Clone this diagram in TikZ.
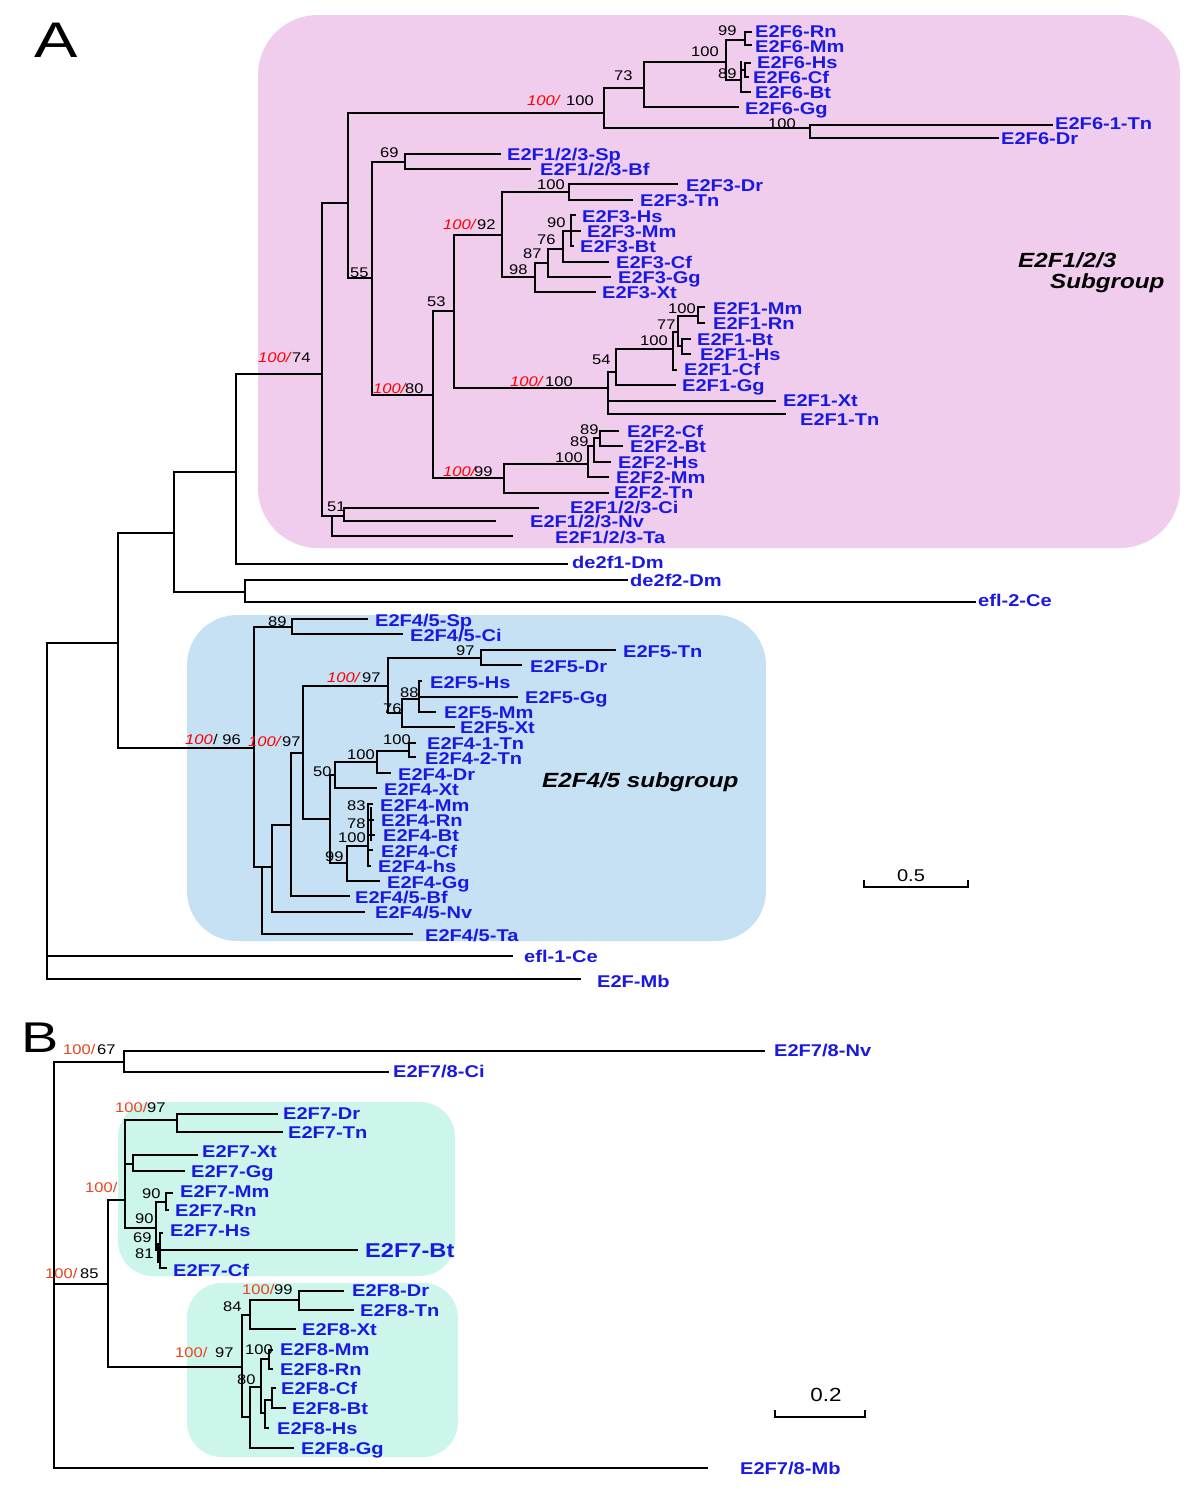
\documentclass[tikz,border=0pt]{standalone}
\usepackage{fontspec}
\setmainfont{Liberation Sans}
\newfontfamily\labf[FakeStretch=1.18]{Liberation Sans}
\newfontfamily\bigf[FakeStretch=1.3]{Liberation Sans}
\definecolor{labblue}{RGB}{25,25,225}
\definecolor{pinkbox}{RGB}{240,205,236}
\definecolor{bluebox}{RGB}{198,224,244}
\definecolor{cyanbox}{RGB}{204,246,236}
\definecolor{bred}{RGB}{232,70,30}
\newcounter{nbc}
\tikzset{
  br/.style={line width=2.1pt, line cap=rect},
  lab/.style={anchor=base west, inner sep=0pt, text=labblue, font=\labf\bfseries\fontsize{17}{17}\selectfont},
  num/.style={anchor=base west, inner sep=0pt, font=\labf\fontsize{14}{14}\selectfont},
  rnum/.style={num, text=red, font=\labf\itshape\fontsize{14}{14}\selectfont},
  bnum/.style={num, text=bred},
  grp/.style={anchor=base west, inner sep=0pt, font=\labf\bfseries\itshape\fontsize{20.5}{20.5}\selectfont}
}
\newcommand\vb[3]{\draw[br] (#1,#2) -- (#1,#3);}
\newcommand\hb[3]{\draw[br] (#2,#1) -- (#3,#1);}
\newcommand\tleaf[7]{\coordinate (#1t) at (#4,#2); \draw[br] (#3,#2) -- (#1t); \node[lab] (#1) at (#5,#6+6) {#7};}
\newcommand\nb[3]{\stepcounter{nbc}\node[num] (nb\arabic{nbc}) at (#1,#2+5) {#3};}
\newcommand\rb[3]{\stepcounter{nbc}\node[rnum] (nb\arabic{nbc}) at (#1,#2+5) {#3};}
\newcommand\ob[3]{\stepcounter{nbc}\node[bnum] (nb\arabic{nbc}) at (#1,#2+5) {#3};}
\begin{document}
\begin{tikzpicture}[x=1pt,y=-1pt]
\useasboundingbox (0,0) rectangle (1200,1494);
\fill[white] (0,0) rectangle (1200,1494);
% group boxes
\fill[pinkbox, rounded corners=60] (258,15) rectangle (1180,548);
\fill[bluebox, rounded corners=50] (187,615) rectangle (766,941);
\fill[cyanbox, rounded corners=35] (118,1102) rectangle (455,1276);
\fill[cyanbox, rounded corners=35] (187,1283) rectangle (458,1457);
% panel letters
\node[anchor=base west, inner sep=0pt, font=\bigf\fontsize{50}{50}\selectfont] (pA) at (34,57) {A};
\node[anchor=base west, inner sep=0pt, font=\bigf\fontsize{43}{43}\selectfont] (pB) at (21,1052) {B};
% group names
\node[grp] (g1a) at (1018,267) {E2F1/2/3};
\node[grp] (g1b) at (1050,288) {Subgroup};
\node[grp] (g2) at (542,787) {E2F4/5 subgroup};

%%%%%%%%%%%% PANEL A %%%%%%%%%%%%
\vb{47}{643}{979}
\tleaf{efa}{956}{47}{512}{524}{956}{efl-1-Ce}
\tleaf{mba}{979}{47}{580}{597}{981}{E2F-Mb}
\hb{643}{47}{118}
\vb{118}{533}{748}
\hb{533}{118}{174}
\vb{174}{472}{592}
\hb{472}{174}{236}
\hb{592}{174}{245}
\vb{245}{580}{602}
\tleaf{dtwo}{580}{245}{627}{630}{580}{de2f2-Dm}
\tleaf{eftwo}{602}{245}{975}{978}{600}{efl-2-Ce}
\vb{236}{374}{564}
\tleaf{done}{564}{236}{567}{572}{562}{de2f1-Dm}
\hb{374}{236}{322}
\rb{258}{357}{100/}\nb{292}{357}{74}
\vb{322}{203}{516}
\hb{203}{322}{348}
\hb{516}{322}{344}
\vb{332}{516}{536}
\nb{327}{506}{51}
\vb{344}{508}{521}
\tleaf{ci3}{508}{344}{538}{570}{507}{E2F1/2/3-Ci}
\tleaf{nv3}{521}{344}{495}{530}{521}{E2F1/2/3-Nv}
\tleaf{ta3}{536}{332}{512}{555}{537}{E2F1/2/3-Ta}
% E2F6
\vb{348}{113}{278}
\hb{113}{348}{604}
\rb{527}{100}{100/}\nb{566}{100}{100}
\vb{604}{88}{128}
\hb{88}{604}{644}\nb{614}{75}{73}
\vb{644}{62}{107}
\hb{62}{644}{726}\nb{691}{51}{100}
\vb{726}{40}{80}
\hb{40}{726}{745}
\vb{745}{32}{45}\nb{718}{30}{99}
\tleaf{rn6}{32}{745}{751}{755}{31}{E2F6-Rn}
\tleaf{mm6}{45}{745}{751}{755}{46}{E2F6-Mm}
\hb{80}{726}{741}
\vb{741}{62}{92}\nb{718}{73}{89}
\hb{70}{741}{745}
\vb{745}{63}{77}
\tleaf{hs6}{63}{745}{750}{757}{62}{E2F6-Hs}
\tleaf{cf6}{77}{745}{748}{753}{77}{E2F6-Cf}
\tleaf{bt6}{92}{741}{750}{755}{92}{E2F6-Bt}
\tleaf{gg6}{107}{644}{738}{745}{108}{E2F6-Gg}
\hb{128}{604}{810}\nb{768}{123}{100}
\vb{810}{125}{138}
\tleaf{tn6}{125}{810}{1052}{1055}{123}{E2F6-1-Tn}
\tleaf{dr6}{138}{810}{998}{1001}{138}{E2F6-Dr}
% E2F1/2/3
\hb{278}{348}{372}\nb{350}{272}{55}
\vb{372}{162}{395}
\hb{162}{372}{405}\nb{380}{152}{69}
\vb{405}{154}{169}
\tleaf{sp3}{154}{405}{500}{507}{154}{E2F1/2/3-Sp}
\tleaf{bf3}{169}{405}{530}{540}{169}{E2F1/2/3-Bf}
\hb{395}{372}{433}\rb{373}{388}{100/}\nb{405}{388}{80}
\vb{433}{311}{478}
\hb{311}{433}{454}\nb{427}{301}{53}
\vb{454}{235}{388}
\hb{235}{454}{502}\rb{443}{224}{100/}\nb{477}{224}{92}
\vb{502}{192}{277}
\hb{192}{502}{569}\nb{537}{184}{100}
\vb{569}{184}{200}
\tleaf{dr3}{184}{569}{677}{686}{185}{E2F3-Dr}
\tleaf{tn3}{200}{569}{632}{640}{200}{E2F3-Tn}
\hb{277}{502}{535}\nb{509}{269}{98}
\vb{535}{263}{292}
\hb{263}{535}{548}\nb{523}{253}{87}
\vb{548}{249}{277}
\hb{249}{548}{563}\nb{537}{239}{76}
\vb{563}{231}{262}
\hb{231}{563}{571}\nb{547}{222}{90}
\vb{571}{215}{246}
\tleaf{hs3}{215}{571}{575}{582}{216}{E2F3-Hs}
\tleaf{mm3}{231}{571}{580}{587}{231}{E2F3-Mm}
\tleaf{bt3}{246}{571}{573}{580}{246}{E2F3-Bt}
\tleaf{cf3}{262}{563}{608}{616}{262}{E2F3-Cf}
\tleaf{gg3}{277}{548}{610}{618}{277}{E2F3-Gg}
\tleaf{xt3}{292}{535}{595}{602}{292}{E2F3-Xt}
% E2F1
\hb{388}{454}{608}\rb{510}{381}{100/}\nb{545}{381}{100}
\vb{608}{372}{414}
\hb{372}{608}{616}\nb{592}{359}{54}
\vb{616}{349}{385}
\hb{349}{616}{673}\nb{640}{340}{100}
\vb{673}{332}{370}
\hb{332}{673}{678}\nb{657}{324}{77}
\vb{678}{316}{346}
\hb{316}{678}{698}\nb{668}{308}{100}
\vb{698}{307}{323}
\tleaf{mm1}{307}{698}{704}{713}{308}{E2F1-Mm}
\tleaf{rn1}{323}{698}{704}{713}{323}{E2F1-Rn}
\hb{346}{678}{682}
\vb{682}{339}{354}
\tleaf{bt1}{339}{682}{690}{697}{339}{E2F1-Bt}
\tleaf{hs1}{354}{682}{690}{700}{354}{E2F1-Hs}
\tleaf{cf1}{370}{673}{676}{684}{369}{E2F1-Cf}
\tleaf{gg1}{385}{616}{675}{682}{385}{E2F1-Gg}
\tleaf{xt1}{401}{608}{775}{783}{400}{E2F1-Xt}
\tleaf{tn1}{414}{608}{785}{800}{419}{E2F1-Tn}
% E2F2
\hb{478}{433}{504}\rb{443}{471}{100/}\nb{474}{471}{99}
\vb{504}{464}{493}
\hb{464}{504}{588}\nb{555}{457}{100}
\vb{588}{446}{477}
\hb{446}{588}{594}\nb{570}{441}{89}
\vb{594}{438}{462}
\hb{438}{594}{600}\nb{580}{429}{89}
\vb{600}{431}{446}
\tleaf{cf2}{431}{600}{618}{627}{431}{E2F2-Cf}
\tleaf{bt2}{446}{600}{622}{630}{446}{E2F2-Bt}
\tleaf{hs2}{462}{594}{610}{618}{462}{E2F2-Hs}
\tleaf{mm2}{477}{588}{608}{616}{477}{E2F2-Mm}
\tleaf{tn2}{493}{504}{608}{614}{492}{E2F2-Tn}
% E2F4/5
\hb{748}{118}{254}\rb{185}{739}{100}\nb{213}{739}{/ 96}
\vb{254}{627}{867}
\hb{627}{254}{292}\nb{268}{621}{89}
\vb{292}{619}{634}
\tleaf{sp5}{619}{292}{367}{375}{620}{E2F4/5-Sp}
\tleaf{ci5}{634}{292}{402}{410}{635}{E2F4/5-Ci}
\hb{867}{254}{272}
\vb{262}{867}{934}
\tleaf{ta5}{934}{262}{412}{425}{935}{E2F4/5-Ta}
\vb{272}{825}{912}
\tleaf{nv5}{912}{272}{364}{375}{912}{E2F4/5-Nv}
\hb{825}{272}{291}
\vb{291}{753}{896}
\tleaf{bf5}{896}{291}{349}{355}{897}{E2F4/5-Bf}
\hb{753}{291}{303}\rb{248}{741}{100/}\nb{282}{741}{97}
\vb{303}{686}{819}
\hb{686}{303}{388}\rb{327}{677}{100/}\nb{362}{677}{97}
\vb{388}{658}{713}
\hb{658}{388}{481}\nb{456}{650}{97}
\vb{481}{650}{665}
\tleaf{tn5}{650}{481}{615}{623}{651}{E2F5-Tn}
\tleaf{dr5}{665}{481}{521}{530}{666}{E2F5-Dr}
\hb{713}{388}{402}\nb{383}{708}{76}
\vb{402}{699}{727}
\hb{699}{402}{419}\nb{400}{692}{88}
\vb{419}{681}{712}
\tleaf{hs5}{681}{419}{421}{430}{682}{E2F5-Hs}
\tleaf{gg5}{697}{419}{517}{525}{697}{E2F5-Gg}
\tleaf{mm5}{712}{419}{435}{444}{712}{E2F5-Mm}
\tleaf{xt5}{727}{402}{454}{460}{727}{E2F5-Xt}
\hb{819}{303}{330}
\vb{330}{775}{863}\nb{313}{771}{50}
\hb{775}{330}{335}
\vb{335}{762}{788}
\hb{762}{335}{377}\nb{347}{754}{100}
\vb{377}{751}{773}
\hb{751}{377}{409}\nb{383}{739}{100}
\vb{409}{743}{757}
\tleaf{tfa}{743}{409}{415}{427}{743}{E2F4-1-Tn}
\tleaf{tfb}{757}{409}{415}{425}{758}{E2F4-2-Tn}
\tleaf{dr4}{773}{377}{390}{398}{774}{E2F4-Dr}
\tleaf{xt4}{788}{335}{376}{384}{789}{E2F4-Xt}
\hb{863}{330}{347}\nb{325}{856}{99}
\vb{347}{846}{881}
\hb{846}{347}{368}
\nb{338}{837}{100}\nb{347}{823}{78}\nb{347}{805}{83}
\vb{368}{804}{866}
\vb{371}{808}{840}
\tleaf{mm4}{804}{368}{372}{380}{805}{E2F4-Mm}
\tleaf{rn4}{820}{368}{373}{381}{820}{E2F4-Rn}
\tleaf{bt4}{835}{368}{374}{383}{835}{E2F4-Bt}
\tleaf{cf4}{850}{368}{372}{381}{851}{E2F4-Cf}
\tleaf{hs4}{866}{368}{370}{378}{866}{E2F4-hs}
\tleaf{gg4}{881}{347}{379}{387}{882}{E2F4-Gg}
% scale bar A
\coordinate (sa1) at (864,880); \coordinate (sa2) at (968,880);
\draw[line width=2.1pt] (sa1) -- ++(0,7) -| (sa2);
\node[num, anchor=base, font=\labf\fontsize{17}{17}\selectfont] (sal) at (911,881) {0.5};

%%%%%%%%%%%% PANEL B %%%%%%%%%%%%
\vb{54}{1062}{1468}
\hb{1062}{54}{124}\ob{63}{1049}{100/}\nb{97}{1049}{67}
\vb{124}{1051}{1072}
\tleaf{nvb}{1051}{124}{764}{774}{1050}{E2F7/8-Nv}
\tleaf{cib}{1072}{124}{388}{393}{1071}{E2F7/8-Ci}
\hb{1284}{54}{108}\ob{45}{1273}{100/}\nb{80}{1273}{85}
\vb{108}{1200}{1367}
\hb{1200}{108}{125}\ob{85}{1187}{100/}
\vb{125}{1120}{1228}
\hb{1120}{125}{177}\ob{115}{1107}{100/}\nb{147}{1107}{97}
\vb{177}{1114}{1132}
\tleaf{dr7}{1114}{177}{277}{283}{1113}{E2F7-Dr}
\tleaf{tn7}{1132}{177}{282}{288}{1132}{E2F7-Tn}
\hb{1164}{125}{133}
\vb{133}{1155}{1171}
\tleaf{xt7}{1155}{133}{197}{202}{1151}{E2F7-Xt}
\tleaf{gg7}{1171}{133}{184}{191}{1171}{E2F7-Gg}
\hb{1228}{125}{156}\nb{135}{1218}{90}
\vb{156}{1202}{1250}
\hb{1202}{156}{166}\nb{142}{1193}{90}
\vb{166}{1193}{1210}
\tleaf{mm7}{1193}{166}{172}{180}{1191}{E2F7-Mm}
\tleaf{rn7}{1210}{166}{168}{175}{1210}{E2F7-Rn}
\hb{1250}{156}{160}
\vb{160}{1233}{1268}
\vb{158}{1244}{1262}
\nb{133}{1237}{69}\nb{135}{1253}{81}
\tleaf{hs7}{1233}{160}{162}{170}{1230}{E2F7-Hs}
\coordinate (bt7t) at (357,1250); \draw[br] (160,1250) -- (bt7t);
\node[lab, font=\labf\bfseries\fontsize{20}{20}\selectfont] (bt7) at (365,1257) {E2F7-Bt};
\tleaf{cf7}{1268}{160}{166}{173}{1270}{E2F7-Cf}
\hb{1367}{108}{242}\ob{175}{1352}{100/}\nb{215}{1352}{97}
\vb{242}{1315}{1417}
\hb{1315}{242}{250}\nb{223}{1306}{84}
\vb{250}{1300}{1329}
\hb{1300}{250}{299}\ob{242}{1289}{100/}\nb{274}{1289}{99}
\vb{299}{1291}{1310}
\tleaf{dr8}{1291}{299}{343}{352}{1290}{E2F8-Dr}
\tleaf{tn8}{1310}{299}{353}{360}{1310}{E2F8-Tn}
\tleaf{xt8}{1329}{250}{295}{302}{1329}{E2F8-Xt}
\hb{1417}{242}{250}
\vb{250}{1387}{1448}
\hb{1387}{250}{261}\nb{237}{1379}{80}
\vb{261}{1359}{1413}
\hb{1359}{261}{269}\nb{245}{1349}{100}
\vb{269}{1350}{1369}
\tleaf{mm8}{1350}{269}{272}{280}{1349}{E2F8-Mm}
\tleaf{rn8}{1369}{269}{272}{280}{1369}{E2F8-Rn}
\hb{1413}{261}{265}
\vb{265}{1400}{1428}
\hb{1400}{265}{272}
\vb{272}{1388}{1408}
\tleaf{cf8}{1388}{272}{275}{281}{1388}{E2F8-Cf}
\tleaf{bt8}{1408}{272}{285}{292}{1408}{E2F8-Bt}
\tleaf{hs8}{1428}{265}{268}{277}{1428}{E2F8-Hs}
\tleaf{gg8}{1448}{250}{293}{301}{1448}{E2F8-Gg}
\tleaf{mbb}{1468}{54}{707}{740}{1468}{E2F7/8-Mb}
% scale bar B
\coordinate (sb1) at (775,1410); \coordinate (sb2) at (865,1410);
\draw[line width=2.1pt] (sb1) -- ++(0,7) -| (sb2);
\node[num, anchor=base, font=\labf\fontsize{19}{19}\selectfont] (sbl) at (826,1401) {0.2};
\end{tikzpicture}
\end{document}
